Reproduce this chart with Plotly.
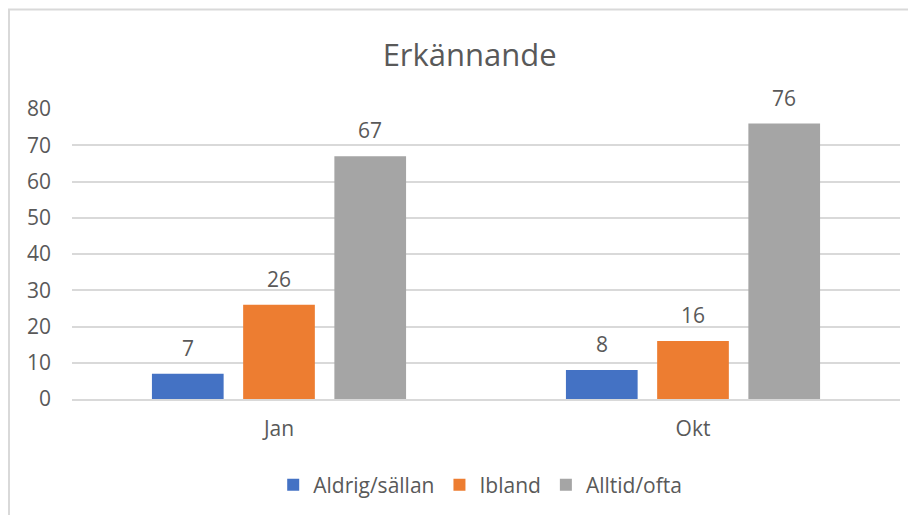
import plotly.graph_objects as go

categories = ["Jan", "Okt"]
series_names = ["Aldrig/sällan", "Ibland", "Alltid/ofta"]
aldrig = [7, 8]
ibland = [26, 16]
alltid = [67, 76]
y_ticks = [0, 10, 20, 30, 40, 50, 60, 70, 80]

colors = ["#4472C4", "#ED7D31", "#A5A5A5"]
text_color = "#595959"
font = "Open Sans"

fig = go.Figure()
for name, vals, col in zip(series_names, [aldrig, ibland, alltid], colors):
    fig.add_trace(go.Bar(x=categories, y=vals, name=name, marker_color=col,
                         marker_line_width=0))

# data labels above bars (Excel puts them further out than plotly's "outside")
slot = 91.2
for i, vals in enumerate([aldrig, ibland, alltid]):
    for cat, v in zip(categories, vals):
        fig.add_annotation(x=cat, y=v, text=str(v), showarrow=False,
                           xshift=(i - 1) * slot, yshift=10, yanchor="bottom",
                           font=dict(family=font, size=21, color=text_color))

# chart-area border (cropped on right/bottom)
fig.add_shape(type="rect", xref="paper", yref="paper",
              x0=-0.0761, x1=1.2, y0=-0.6, y1=1.343,
              line=dict(color="#D9D9D9", width=2), layer="below")

fig.update_layout(
    width=916, height=515,
    margin=dict(l=64, r=24, t=101, b=124),
    paper_bgcolor="white", plot_bgcolor="white",
    title=dict(text="Erkännande", x=0.504, xanchor="center", y=0.909,
               yanchor="middle", font=dict(family=font, size=31, color=text_color)),
    barmode="group", bargap=0.339, bargroupgap=0.214,
    font=dict(family=font, size=21, color=text_color),
    xaxis=dict(showgrid=False, showline=True, linecolor="#D9D9D9", linewidth=2,
               ticks="", ticklabelstandoff=10,
               tickfont=dict(family=font, size=21, color=text_color)),
    yaxis=dict(range=[0, 80], tickvals=y_ticks, showgrid=True, gridcolor="#D9D9D9",
               gridwidth=2, zeroline=False, showline=False, ticks="",
               ticklabelstandoff=20,
               tickfont=dict(family=font, size=21, color=text_color)),
    legend=dict(orientation="h", x=0.493, xanchor="center", y=-0.297,
                yanchor="middle", font=dict(family=font, size=21, color=text_color),
                itemwidth=30),
    showlegend=True,
)

fig.write_html("out.html")
